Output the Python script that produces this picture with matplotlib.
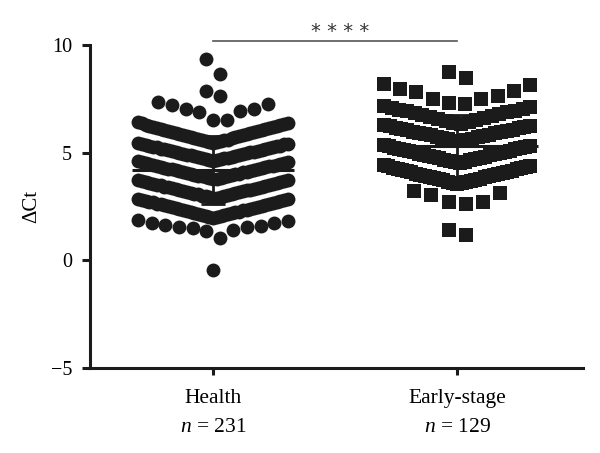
import numpy as np
import matplotlib
matplotlib.use("Agg")
import matplotlib.pyplot as plt

plt.rcParams['font.family'] = ['Liberation Serif', 'DejaVu Serif']
plt.rcParams['mathtext.fontset'] = 'custom'
plt.rcParams['mathtext.rm'] = 'Liberation Serif'
plt.rcParams['mathtext.it'] = 'Liberation Serif:italic'

# groups and sample sizes
groups = ['Health', 'Early-stage']
group_n = [231, 129]

# delta Ct values, grouped roughly by row of the swarm
health = [
    9.35, 8.64,
    7.84, 7.64,
    6.51, 6.53, 6.90, 6.94, 7.02, 7.03, 7.20, 7.25, 7.36,
    5.46, 5.48, 5.50, 5.53, 5.54, 5.57, 5.60, 5.61, 5.64, 5.67, 5.69, 5.71, 5.74, 5.75,
    5.78, 5.81, 5.83, 5.85, 5.88, 5.90, 5.92, 5.95, 5.97, 6.00, 6.02, 6.04, 6.07, 6.09,
    6.11, 6.14, 6.16, 6.18, 6.21, 6.23, 6.25, 6.28, 6.30, 6.33, 6.36, 6.39, 6.43,
    4.63, 4.64, 4.67, 4.70, 4.71, 4.73, 4.76, 4.77, 4.79, 4.82, 4.83, 4.85, 4.88, 4.89,
    4.91, 4.93, 4.96, 4.97, 4.99, 5.02, 5.03, 5.05, 5.07, 5.10, 5.11, 5.13, 5.16, 5.17,
    5.19, 5.21, 5.24, 5.25, 5.27, 5.30, 5.31, 5.33, 5.35, 5.38, 5.39, 5.41, 5.44,
    3.77, 3.79, 3.81, 3.83, 3.85, 3.87, 3.90, 3.91, 3.93, 3.96, 3.97, 3.99, 4.02, 4.03,
    4.05, 4.08, 4.10, 4.11, 4.14, 4.16, 4.18, 4.20, 4.22, 4.24, 4.26, 4.28, 4.30, 4.33,
    4.34, 4.36, 4.39, 4.40, 4.42, 4.45, 4.47, 4.49, 4.51, 4.53, 4.55, 4.57, 4.60,
    2.89, 2.91, 2.93, 2.95, 2.98, 2.99, 3.01, 3.04, 3.06, 3.08, 3.10, 3.12, 3.14, 3.16,
    3.19, 3.20, 3.22, 3.25, 3.27, 3.29, 3.31, 3.33, 3.35, 3.37, 3.40, 3.41, 3.43, 3.46,
    3.48, 3.50, 3.52, 3.54, 3.56, 3.58, 3.61, 3.62, 3.64, 3.67, 3.69, 3.71, 3.74,
    1.99, 2.01, 2.03, 2.06, 2.08, 2.10, 2.12, 2.14, 2.16, 2.19, 2.21, 2.23, 2.25, 2.27,
    2.29, 2.32, 2.34, 2.36, 2.38, 2.40, 2.43, 2.45, 2.47, 2.49, 2.51, 2.53, 2.56, 2.58,
    2.60, 2.62, 2.64, 2.66, 2.69, 2.71, 2.73, 2.75, 2.77, 2.79, 2.82, 2.84, 2.86,
    1.05, 1.36, 1.43, 1.50, 1.54, 1.57, 1.62, 1.65, 1.73, 1.73, 1.81, 1.90,
    -0.46,
]

early = [
    8.44, 8.72,
    7.25, 7.32, 7.48, 7.50, 7.64, 7.80, 7.87, 7.95, 8.13, 8.20,
    6.35, 6.39, 6.44, 6.48, 6.52, 6.57, 6.61, 6.65, 6.70, 6.74, 6.78, 6.82, 6.87, 6.91,
    6.95, 7.00, 7.04, 7.08, 7.12, 7.17,
    5.53, 5.56, 5.59, 5.62, 5.65, 5.68, 5.71, 5.74, 5.77, 5.80, 5.83, 5.86, 5.89, 5.92,
    5.95, 5.98, 6.01, 6.04, 6.07, 6.10, 6.13, 6.16, 6.19, 6.22, 6.25, 6.29,
    4.53, 4.56, 4.58, 4.61, 4.64, 4.67, 4.70, 4.73, 4.75, 4.78, 4.81, 4.84, 4.87, 4.89,
    4.92, 4.95, 4.98, 5.01, 5.04, 5.06, 5.09, 5.12, 5.15, 5.18, 5.20, 5.23, 5.26, 5.29,
    5.32, 5.35,
    3.55, 3.58, 3.60, 3.63, 3.66, 3.68, 3.71, 3.74, 3.77, 3.79, 3.82, 3.85, 3.87, 3.90,
    3.93, 3.95, 3.98, 4.01, 4.03, 4.06, 4.09, 4.12, 4.14, 4.17, 4.20, 4.22, 4.25, 4.28,
    4.30, 4.33, 4.36, 4.38, 4.41,
    2.62, 2.70, 2.72, 3.04, 3.15, 3.24,
    1.16, 1.42,
]

# row boundaries used by the swarm layout (like GraphPad's binning)
health_edges = [-1.0, 0.9, 1.97, 2.88, 3.76, 4.62, 5.45, 6.45, 7.45, 8.45, 9.45]
early_edges = [1.0, 2.0, 3.4, 4.47, 5.45, 6.32, 7.2, 8.25, 9.2]


def swarm_x(vals, edges, center, step_max, half_width):
    # lowest value of each row in the middle, higher ones pushed outwards
    vals = np.asarray(vals, dtype=float)
    xs = np.zeros(len(vals))
    rows = np.digitize(vals, edges)
    for r in np.unique(rows):
        idx = np.where(rows == r)[0]
        idx = idx[np.argsort(vals[idx], kind='stable')]
        n = len(idx)
        step = step_max if n < 2 else min(step_max, 2 * half_width / (n - 1))
        k = np.arange(n)
        if n % 2:
            slots = np.where(k % 2 == 1, (k + 1) // 2, -(k // 2))
        else:
            slots = np.where(k % 2 == 0, k // 2 + 0.5, -(k // 2 + 0.5))
        xs[idx] = center + slots * step
    return xs


fig = plt.figure(figsize=(6, 4.53), dpi=100)
ax = fig.add_axes([0.15, 0.187, 0.8217, 0.714])

hx = swarm_x(health, health_edges, 1, 0.056, 0.307)
ex = swarm_x(early, early_edges, 2, 0.07, 0.30)
ax.scatter(hx, health, s=100, marker='o', color='#1b1b1b', linewidths=0, zorder=2)
ax.scatter(ex, early, s=92, marker='s', color='#1b1b1b', linewidths=0, zorder=2)

# mean and SD bars
for i, vals in enumerate([health, early]):
    c = i + 1
    m = np.mean(vals)
    sd = np.std(vals, ddof=1)
    ax.hlines(m, c - 0.33, c + 0.33, color='#1b1b1b', lw=2.2, zorder=3)
    ax.vlines(c, m - sd, m + sd, color='#1b1b1b', lw=2.0, zorder=3)
    ax.hlines([m - sd, m + sd], c - 0.05, c + 0.05, color='#1b1b1b', lw=2.0, zorder=3)

# significance bracket
ax.plot([1, 2], [10.2, 10.2], color='#555555', lw=1.2, clip_on=False)
ax.text(1.52, 10.62, '* * * *', ha='center', va='center', fontsize=14,
        family='DejaVu Sans', color='#333333')

ax.set_xlim(0.496, 2.516)
ax.set_ylim(-5, 10)
ax.set_yticks([-5, 0, 5, 10])
ax.set_xticks([1, 2])
ax.set_xticklabels([f'{g}\n$n$ = {n}' for g, n in zip(groups, group_n)])
for lbl in ax.get_xticklabels():
    lbl.set_linespacing(1.7)
ax.set_ylabel('ΔCt', fontsize=15, labelpad=7)

for side in ['top', 'right']:
    ax.spines[side].set_visible(False)
for side in ['left', 'bottom']:
    ax.spines[side].set_linewidth(2.2)
    ax.spines[side].set_color('#1b1b1b')
ax.tick_params(axis='y', length=6, width=2.2, pad=7, labelsize=14.5, color='#1b1b1b')
ax.tick_params(axis='x', length=5, width=2.2, pad=10, labelsize=15.5, color='#1b1b1b')

fig.savefig('out.png', dpi=100)
